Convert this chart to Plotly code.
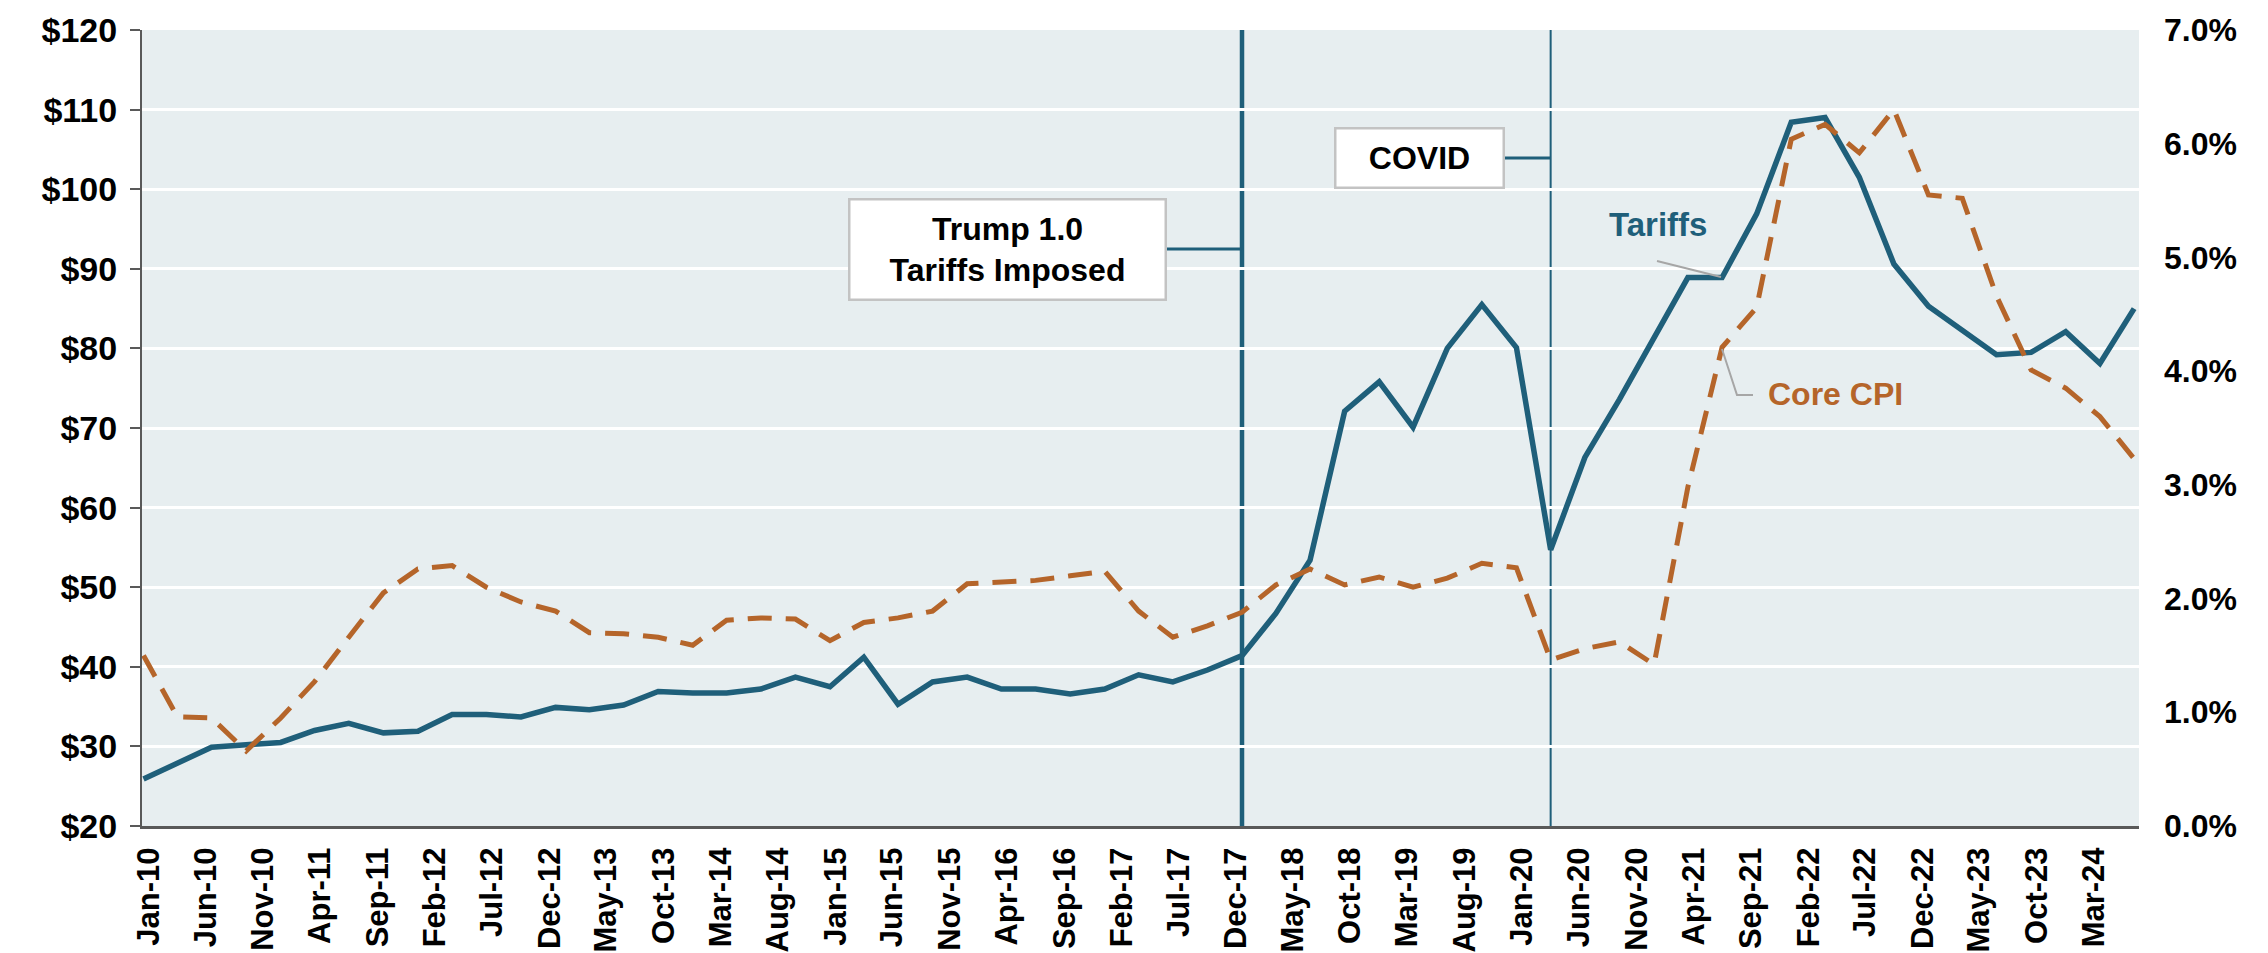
import plotly.graph_objects as go
import pandas as pd

# ---------------- data (quarterly) ----------------
quarters = [
    "2010-01-01", "2010-04-01", "2010-07-01", "2010-10-01",
    "2011-01-01", "2011-04-01", "2011-07-01", "2011-10-01",
    "2012-01-01", "2012-04-01", "2012-07-01", "2012-10-01",
    "2013-01-01", "2013-04-01", "2013-07-01", "2013-10-01",
    "2014-01-01", "2014-04-01", "2014-07-01", "2014-10-01",
    "2015-01-01", "2015-04-01", "2015-07-01", "2015-10-01",
    "2016-01-01", "2016-04-01", "2016-07-01", "2016-10-01",
    "2017-01-01", "2017-04-01", "2017-07-01", "2017-10-01",
    "2018-01-01", "2018-04-01", "2018-07-01", "2018-10-01",
    "2019-01-01", "2019-04-01", "2019-07-01", "2019-10-01",
    "2020-01-01", "2020-04-01", "2020-07-01", "2020-10-01",
    "2021-01-01", "2021-04-01", "2021-07-01", "2021-10-01",
    "2022-01-01", "2022-04-01", "2022-07-01", "2022-10-01",
    "2023-01-01", "2023-04-01", "2023-07-01", "2023-10-01",
    "2024-01-01", "2024-04-01", "2024-07-01",
]

tariffs = [
    25.9, 27.8, 29.9, 30.2,
    30.5, 32.0, 32.9, 31.7,
    31.9, 34.0, 34.0, 33.7,
    34.9, 34.6, 35.2, 36.9,
    36.7, 36.7, 37.2, 38.7,
    37.5, 41.2, 35.3, 38.1,
    38.7, 37.2, 37.2, 36.6,
    37.2, 39.0, 38.1, 39.6,
    41.4, 46.7, 53.4, 72.1,
    75.8, 70.1, 80.0, 85.5,
    80.1, 54.7, 66.3, 73.6,
    81.2, 88.9, 88.9, 96.9,
    108.4, 109.0, 101.5, 90.6,
    85.3, 82.2, 79.2, 79.5,
    82.1, 78.1, 85.0,
]

core_cpi_pct = [
    1.50, 0.96, 0.95, 0.66,
    0.95, 1.27, 1.66, 2.05,
    2.26, 2.29, 2.10, 1.97,
    1.89, 1.70, 1.69, 1.66,
    1.59, 1.81, 1.83, 1.82,
    1.63, 1.79, 1.83, 1.89,
    2.13, 2.14, 2.16, 2.20,
    2.24, 1.89, 1.66, 1.76,
    1.88, 2.12, 2.26, 2.12,
    2.19, 2.10, 2.18, 2.31,
    2.27, 1.46, 1.56, 1.62,
    1.42, 2.98, 4.21, 4.56,
    6.04, 6.17, 5.92, 6.30,
    5.55, 5.52, 4.66, 4.01,
    3.85, 3.60, 3.23,
]

tick_labels = [
    "Jan-10", "Jun-10", "Nov-10", "Apr-11", "Sep-11", "Feb-12", "Jul-12",
    "Dec-12", "May-13", "Oct-13", "Mar-14", "Aug-14", "Jan-15", "Jun-15",
    "Nov-15", "Apr-16", "Sep-16", "Feb-17", "Jul-17", "Dec-17", "May-18",
    "Oct-18", "Mar-19", "Aug-19", "Jan-20", "Jun-20", "Nov-20", "Apr-21",
    "Sep-21", "Feb-22", "Jul-22", "Dec-22", "May-23", "Oct-23", "Mar-24",
]

event_dates = {"trump": "2018-01-01", "covid": "2020-04-01"}

# ---------------- styling ----------------
TEAL = "#1f5f7a"
ORANGE = "#b5652a"
AXIS = "#595959"
FONT = "Liberation Sans, Arial, sans-serif"

PAGE_W, PAGE_H = 2268, 953
OFF = 8                       # default body margin of the html page
W, H = PAGE_W - OFF, PAGE_H - OFF
# plot area in page pixels
L, R, T, B = 142, 2139, 30, 826


def px(x):
    return (x - L) / (R - L)


def py(y):
    return (B - y) / (B - T)


# labels sit in the middle of their month
tick_vals = [(pd.to_datetime(t, format="%b-%y") + pd.Timedelta(days=15)).strftime("%Y-%m-%d")
             for t in tick_labels]

fig = go.Figure()
fig.add_trace(go.Scatter(
    x=quarters, y=tariffs, mode="lines", name="Tariffs",
    line=dict(color=TEAL, width=5.5), yaxis="y", hoverinfo="skip"))
fig.add_trace(go.Scatter(
    x=quarters, y=[v / 100 for v in core_cpi_pct], mode="lines", name="Core CPI",
    line=dict(color=ORANGE, width=5, dash="24px,14px"), yaxis="y2", hoverinfo="skip"))

fig.update_layout(
    width=W, height=H,
    margin=dict(l=L - OFF, r=PAGE_W - R, t=T - OFF, b=PAGE_H - B, pad=0, autoexpand=False),
    paper_bgcolor="white", plot_bgcolor="#e7eef0",
    showlegend=False,
    xaxis=dict(
        type="date", range=["2009-12-28", "2024-07-14"], automargin=False,
        tickmode="array", tickvals=tick_vals, ticktext=tick_labels,
        tickangle=-90, tickfont=dict(family=FONT, size=31, color="black", weight="bold"),
        showgrid=False, zeroline=False, showline=True, linecolor=AXIS, linewidth=3,
        ticks="", ticklabelstandoff=6,
    ),
    yaxis=dict(
        range=[20, 120], dtick=10, tick0=20, tickprefix="$", automargin=False,
        tickfont=dict(family=FONT, size=34, color="black", weight="bold"),
        showgrid=True, gridcolor="white", gridwidth=2.5,
        zeroline=False, showline=True, linecolor=AXIS, linewidth=2,
        ticks="outside", ticklen=10, tickwidth=2, tickcolor=AXIS, ticklabelstandoff=6,
    ),
    yaxis2=dict(
        range=[0, 0.07], dtick=0.01, tick0=0, tickformat=".1%", automargin=False,
        overlaying="y", side="right",
        tickfont=dict(family=FONT, size=32, color="black", weight="bold"),
        showgrid=False, zeroline=False, showline=False, ticks="",
        ticklabelstandoff=24,
    ),
)

shapes = [
    dict(type="line", xref="x", yref="paper", x0=event_dates["trump"], x1=event_dates["trump"],
         y0=0, y1=1, line=dict(color=TEAL, width=4.5), layer="below"),
    dict(type="line", xref="x", yref="paper", x0=event_dates["covid"], x1=event_dates["covid"],
         y0=0, y1=1, line=dict(color=TEAL, width=2), layer="below"),
    # connectors from boxes to event lines
    dict(type="line", xref="paper", yref="paper", x0=px(1167), x1=px(1242), y0=py(249), y1=py(249),
         line=dict(color=TEAL, width=3)),
    dict(type="line", xref="paper", yref="paper", x0=px(1504), x1=px(1551), y0=py(158), y1=py(158),
         line=dict(color=TEAL, width=3)),
    # leader lines for series labels
    dict(type="line", xref="paper", yref="paper", x0=px(1657), x1=px(1721), y0=py(261), y1=py(277),
         line=dict(color="#a6a6a6", width=2)),
    dict(type="path", xref="paper", yref="paper",
         path=f"M {px(1722)} {py(349)} L {px(1737)} {py(395)} L {px(1753)} {py(395)}",
         line=dict(color="#a6a6a6", width=2)),
]
fig.update_layout(shapes=shapes)

box_font = dict(family=FONT, size=32, color="black", weight="bold")
annotations = [
    dict(xref="paper", yref="paper", x=px(1007.5), y=py(249), xanchor="center", yanchor="middle",
         text="Trump 1.0<br>Tariffs Imposed", showarrow=False, font=box_font, align="center",
         bgcolor="white", bordercolor="#c3c3c3", borderwidth=2.5, borderpad=0,
         width=314, height=98),
    dict(xref="paper", yref="paper", x=px(1419), y=py(158), xanchor="center", yanchor="middle",
         text="COVID", showarrow=False, font=box_font, align="center",
         bgcolor="white", bordercolor="#c3c3c3", borderwidth=2.5, borderpad=0,
         width=166, height=57),
    dict(xref="paper", yref="paper", x=px(1658), y=py(224), xanchor="center", yanchor="middle",
         text="Tariffs", showarrow=False,
         font=dict(family=FONT, size=33, color=TEAL, weight="bold")),
    dict(xref="paper", yref="paper", x=px(1766), y=py(394), xanchor="left", yanchor="middle",
         text="Core CPI", showarrow=False,
         font=dict(family=FONT, size=32, color=ORANGE, weight="bold")),
]
fig.update_layout(annotations=annotations)

fig.write_html("out.html")
